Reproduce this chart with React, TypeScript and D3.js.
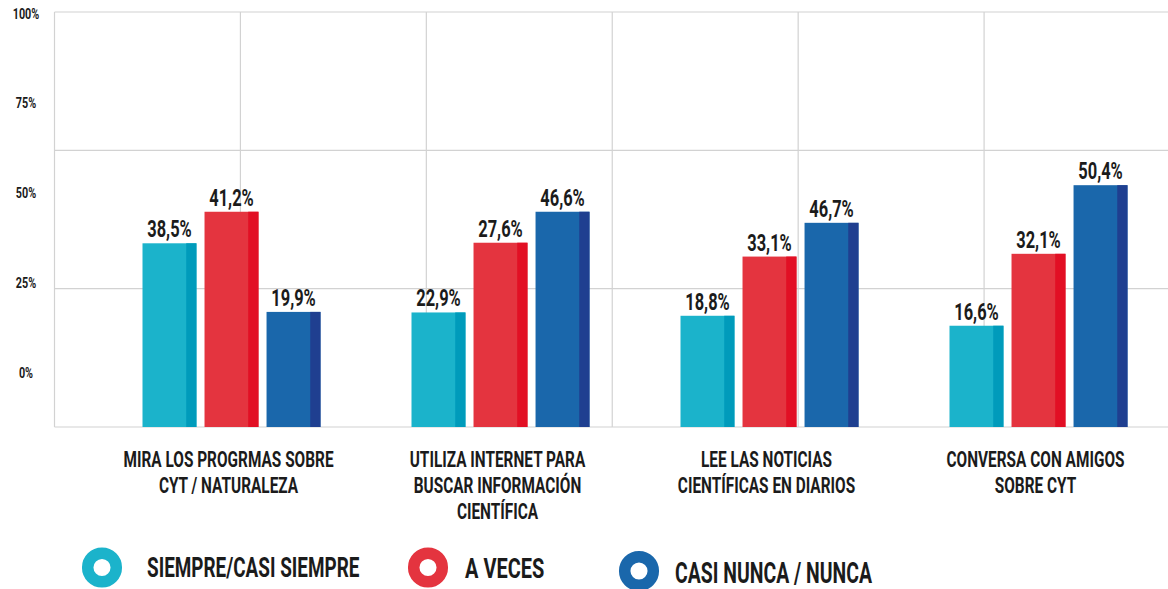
import React from 'react';
import * as d3 from 'd3';

const WIDTH = 1168;
const HEIGHT = 589;

// categories (x axis), one label per line
const categories = [
  ['MIRA LOS PROGRMAS SOBRE', 'CYT / NATURALEZA'],
  ['UTILIZA INTERNET PARA', 'BUSCAR INFORMACIÓN', 'CIENTÍFICA'],
  ['LEE LAS NOTICIAS', 'CIENTÍFICAS EN DIARIOS'],
  ['CONVERSA CON AMIGOS', 'SOBRE CYT'],
];

const seriesNames = ['SIEMPRE/CASI SIEMPRE', 'A VECES', 'CASI NUNCA / NUNCA'];

// percentages printed over the bars
const siempre = [38.5, 22.9, 18.8, 16.6];
const aVeces = [41.2, 27.6, 33.1, 32.1];
const casiNunca = [19.9, 46.6, 46.7, 50.4];

// bar heights as drawn in the picture (grid units, gridlines every 25)
const siempreBars = [33.2, 20.7, 20.1, 18.3];
const aVecesBars = [38.9, 33.3, 30.8, 31.3];
const casiNuncaBars = [20.8, 38.9, 36.9, 43.7];

const axisTicks = [0, 25, 50, 75, 100];

const COLORS = ['#1bb3cb', '#e4343f', '#1a67ab'];
const SHADES = ['#009bbb', '#e20f24', '#1f3f90'];
const GRID = '#d2d2d2';
const INK = '#1b1b1b';
const FONT = "Roboto, 'DejaVu Sans', sans-serif";

const margin = { left: 54.5, top: 12, bottom: 427, right: WIDTH };

const fmt = (v: number) => v.toFixed(1).replace('.', ',') + '%';

const App = () => {
  const values = [siempre, aVeces, casiNunca];
  const bars = [siempreBars, aVecesBars, casiNuncaBars];

  const yScale = d3.scaleLinear().domain([0, 75]).range([margin.bottom, margin.top]);
  const gridX = d3.scaleLinear().domain([0, 6]).range([margin.left, 1170]);
  const xScale = d3.scaleBand<number>().domain(d3.range(categories.length)).range([97, 1173]).padding(0);
  const inner = d3.scaleBand<number>().domain(d3.range(seriesNames.length)).range([0, 178]).paddingInner(0.13);
  const tickScale = d3.scaleLinear().domain([0, 100]).range([372, 13]);

  const groupX = (i: number) => xScale(i)! + xScale.bandwidth() / 2 - 89;
  const bw = inner.bandwidth();

  // legend layout
  const legend = [
    { cx: 102, cy: 567.5, tx: 147, ty: 577, size: 27, sx: 0.7 },
    { cx: 428, cy: 567.5, tx: 465, ty: 578, size: 27, sx: 0.74 },
    { cx: 639, cy: 571, tx: 675, ty: 583, size: 29, sx: 0.67 },
  ];

  return (
    <svg width={WIDTH} height={HEIGHT} style={{ position: 'absolute', left: 0, top: 0, background: '#fff' }}>
      {/* horizontal gridlines */}
      {[0, 25, 50, 75].map(t => (
        <line key={'h' + t} x1={margin.left} x2={margin.right} y1={yScale(t)} y2={yScale(t)} stroke={GRID} strokeWidth={1.2} />
      ))}
      {/* vertical gridlines */}
      {d3.range(0, 6).map(t => (
        <line key={'v' + t} x1={gridX(t)} x2={gridX(t)} y1={margin.top} y2={margin.bottom} stroke={GRID} strokeWidth={1.2} />
      ))}

      {/* y tick labels */}
      {axisTicks.map(t => (
        <text key={'t' + t} transform={`translate(26,${tickScale(t) + 5.5}) scale(0.72,1)`} textAnchor="middle"
          fontFamily={FONT} fontWeight={700} fontSize={15} fill={INK}>{t}%</text>
      ))}

      {/* bars */}
      {categories.map((c, i) => (
        <g key={'g' + i} transform={`translate(${groupX(i)},0)`}>
          {bars.map((s, k) => {
            const x = inner(k)!;
            const y = yScale(s[i]);
            const h = yScale(0) - y;
            return (
              <g key={k}>
                <rect x={x} y={y} width={bw} height={h} fill={COLORS[k]} />
                <rect x={x + bw * 0.81} y={y} width={bw * 0.19} height={h} fill={SHADES[k]} />
                <text transform={`translate(${x + bw / 2},${y - 6}) scale(0.7,1)`} textAnchor="middle"
                  fontFamily={FONT} fontWeight={700} fontSize={23.5} fill={INK}>{fmt(values[k][i])}</text>
              </g>
            );
          })}
        </g>
      ))}

      {/* category labels */}
      {categories.map((lines, i) => (
        <g key={'c' + i}>
          {lines.map((l, j) => (
            <text key={j} transform={`translate(${xScale(i)! + xScale.bandwidth() / 2 - 3},${467 + j * 26}) scale(0.7,1)`}
              textAnchor="middle" fontFamily={FONT} fontWeight={700} fontSize={22} fill={INK}>{l}</text>
          ))}
        </g>
      ))}

      {/* legend */}
      {seriesNames.map((name, k) => {
        const L = legend[k];
        return (
          <g key={'l' + k}>
            <circle cx={L.cx} cy={L.cy} r={14.3} fill="none" stroke={COLORS[k]} strokeWidth={11.5} />
            <text transform={`translate(${L.tx},${L.ty}) scale(${L.sx},1)`} fontFamily={FONT} fontWeight={700}
              fontSize={L.size} fill={INK}>{name}</text>
          </g>
        );
      })}
    </svg>
  );
};

export default App;
